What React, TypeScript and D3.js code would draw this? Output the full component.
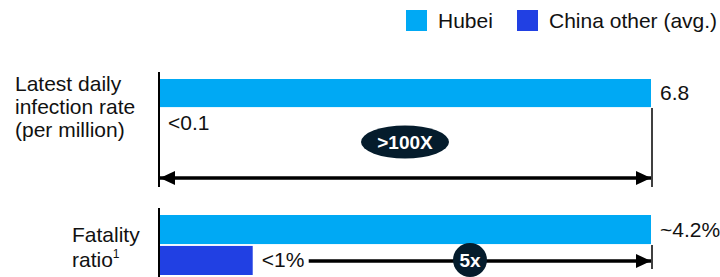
import React from "react";
import * as d3 from "d3";

const categories = [["Latest daily", "infection rate", "(per million)"], ["Fatality", "ratio"]];
const series = ["Hubei", "China other (avg.)"];
const hubeiValues = [6.8, 4.2];
const otherValues = [0, 0.8];
const hubeiLabels = ["6.8", "~4.2%"];
const otherLabels = ["<0.1", "<1%"];
const multipliers = [">100X", "5x"];
const colors = ["#00A9F4", "#2140E3"];

const W = 720, H = 277;
const FONT = "'Liberation Sans', Arial, sans-serif";
const NAVY = "#051C2C";
const FS = 21;

export default function App() {
  const x0 = 159, x1 = 651;
  const groups = [
    { rows: [79, 137], axis: [72, 187], arrowY: 178 },
    { rows: [215, 275], axis: [208, 277], arrowY: 261 },
  ];
  return (
    <svg width={W} height={H} style={{ position: "absolute", left: 0, top: 0, fontFamily: FONT }}>
      <defs>
        <marker id="ah" viewBox="0 0 15 14" refX="15" refY="7" markerWidth="15" markerHeight="14" markerUnits="userSpaceOnUse" orient="auto-start-reverse">
          <path d="M0,0 L15,7 L0,14 Z" fill="#000" />
        </marker>
      </defs>
      {/* legend */}
      {series.map((s, i) => {
        const lx = [406, 517][i];
        return (
          <g key={s}>
            <rect x={lx} y={10} width={21} height={21} fill={colors[i]} />
            <text x={lx + 32} y={28} fontSize={FS} fill="#111">{s}</text>
          </g>
        );
      })}
      {groups.map((g, gi) => {
        const x = d3.scaleLinear().domain([0, hubeiValues[gi]]).range([x0, x1]);
        const y = d3.scaleBand<string>().domain(series).range(g.rows as [number, number]).paddingInner(0.06);
        const vals = [hubeiValues[gi], otherValues[gi]];
        const bw = y.bandwidth();
        const cy0 = (y(series[0]) as number) + bw / 2;
        const cy1 = (y(series[1]) as number) + bw / 2;
        const otherEnd = x(otherValues[gi]);
        return (
          <g key={gi}>
            {series.map((s, si) => (
              <rect key={s} x={x(0)} y={y(s)} width={x(vals[si]) - x(0)} height={bw} fill={colors[si]} />
            ))}
            <line x1={x0} x2={x0} y1={g.axis[0]} y2={g.axis[1]} stroke="#000" strokeWidth={2} />
            <text x={x(hubeiValues[gi]) + 9} y={cy0 + 7} fontSize={FS} fill="#111">{hubeiLabels[gi]}</text>
            <text x={otherEnd + 9} y={cy1 + 7} fontSize={FS} fill="#111">{otherLabels[gi]}</text>
            {gi === 0 ? (
              <g>
                <line x1={x1 + 1} x2={x1 + 1} y1={(y(series[1]) as number) - 1} y2={g.arrowY + 9} stroke="#000" strokeWidth={1.5} />
                <line x1={x0 + 1} x2={x1} y1={g.arrowY} y2={g.arrowY} stroke="#000" strokeWidth={3.5}
                  markerStart="url(#ah)" markerEnd="url(#ah)" />
                <ellipse cx={(x0 + x1) / 2} cy={142} rx={44} ry={16.5} fill={NAVY} />
                <text x={(x0 + x1) / 2} y={149} fontSize={19} fontWeight="bold" fill="#fff" textAnchor="middle">{multipliers[gi]}</text>
              </g>
            ) : (
              <g>
                <line x1={x1 + 1} x2={x1 + 1} y1={g.arrowY - 16} y2={g.arrowY + 8} stroke="#000" strokeWidth={1.5} />
                <line x1={otherEnd + 56} x2={x1} y1={g.arrowY} y2={g.arrowY} stroke="#000" strokeWidth={3.5}
                  markerEnd="url(#ah)" />
                <circle cx={470} cy={g.arrowY - 1} r={17} fill={NAVY} />
                <text x={470} y={g.arrowY + 6} fontSize={19} fontWeight="bold" fill="#fff" textAnchor="middle">{multipliers[gi]}</text>
              </g>
            )}
          </g>
        );
      })}
      {/* category labels */}
      {categories[0].map((t, i) => (
        <text key={t} x={15} y={91 + i * 23} fontSize={FS} fill="#111">{t}</text>
      ))}
      <text x={72} y={242} fontSize={FS} fill="#111">{categories[1][0]}</text>
      <text x={72} y={267} fontSize={FS} fill="#111">{categories[1][1]}<tspan fontSize={12} dy={-9}>1</tspan></text>
    </svg>
  );
}
